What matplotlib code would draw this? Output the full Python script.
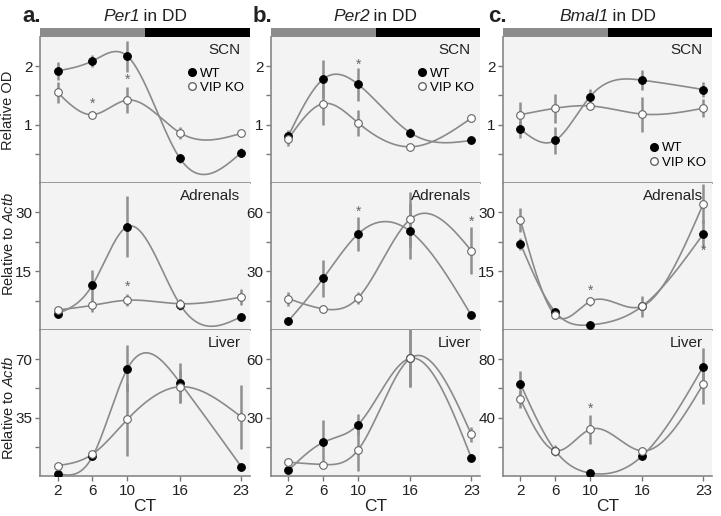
import numpy as np
import matplotlib
matplotlib.use('Agg')
import matplotlib.pyplot as plt
from matplotlib.lines import Line2D

plt.rcParams['font.family'] = ['Liberation Sans', 'DejaVu Sans']
plt.rcParams['mathtext.fontset'] = 'custom'
plt.rcParams['mathtext.rm'] = 'Liberation Sans'
plt.rcParams['mathtext.it'] = 'Liberation Sans:italic'

# ---------------- data ----------------
ct = [2, 6, 10, 16, 23]
ct_labels = ['2', '6', '10', '16', '23']
genes = ['Per1', 'Per2', 'Bmal1']
letters = ['a.', 'b.', 'c.']
tissues = ['SCN', 'Adrenals', 'Liver']
series_names = ['WT', 'VIP KO']
phase_start = [0, 12]
phase_width = [12, 12]
phase_colors = ['#8c8c8c', '#000000']
# y tick unit per (tissue row, gene column)
y_units = [[1, 1, 1], [15, 30, 15], [35, 30, 40]]

# Per1
per1_scn_wt = [1.92, 2.09, 2.17, 0.42, 0.52]
per1_scn_wt_err = [0.15, 0.10, 0.27, 0.07, 0.08]
per1_scn_ko = [1.55, 1.17, 1.42, 0.86, 0.85]
per1_scn_ko_err = [0.18, 0.06, 0.22, 0.10, 0.05]
per1_adr_wt = [4.2, 11.5, 26.4, 6.5, 3.4]
per1_adr_wt_err = [0.5, 3.9, 7.7, 1.5, 0.5]
per1_adr_ko = [5.1, 6.3, 7.6, 6.7, 8.4]
per1_adr_ko_err = [0.6, 1.8, 1.5, 1.2, 2.0]
per1_liv_wt = [1.4, 11.7, 64.4, 56.0, 5.6]
per1_liv_wt_err = [0.5, 1.5, 14.0, 12.0, 1.0]
per1_liv_ko = [6.2, 13.1, 34.0, 53.5, 35.4]
per1_liv_ko_err = [1.0, 1.0, 22.0, 10.0, 19.0]

# Per2
per2_scn_wt = [0.81, 1.78, 1.69, 0.86, 0.73]
per2_scn_wt_err = [0.10, 0.32, 0.28, 0.08, 0.03]
per2_scn_ko = [0.76, 1.36, 1.03, 0.62, 1.11]
per2_scn_ko_err = [0.12, 0.36, 0.22, 0.03, 0.07]
per2_adr_wt = [4.6, 26.4, 49.0, 50.3, 7.5]
per2_adr_wt_err = [1.0, 9.5, 8.5, 14.0, 1.0]
per2_adr_ko = [16.0, 10.8, 16.4, 56.6, 40.5]
per2_adr_ko_err = [3.5, 2.0, 3.0, 14.0, 12.0]
per2_liv_wt = [2.9, 17.3, 26.4, 60.5, 9.3]
per2_liv_wt_err = [0.5, 11.5, 5.5, 15.0, 1.0]
per2_liv_ko = [7.1, 5.9, 13.4, 60.5, 21.4]
per2_liv_ko_err = [2.0, 1.0, 11.0, 15.0, 4.0]

# Bmal1
bmal1_scn_wt = [0.92, 0.73, 1.48, 1.76, 1.60]
bmal1_scn_wt_err = [0.15, 0.23, 0.13, 0.17, 0.13]
bmal1_scn_ko = [1.17, 1.28, 1.32, 1.18, 1.28]
bmal1_scn_ko_err = [0.22, 0.25, 0.07, 0.30, 0.15]
bmal1_adr_wt = [22.0, 4.6, 1.3, 6.1, 24.5]
bmal1_adr_wt_err = [1.5, 0.5, 0.3, 1.0, 3.5]
bmal1_adr_ko = [28.1, 3.8, 7.3, 6.1, 32.2]
bmal1_adr_ko_err = [3.0, 0.6, 1.2, 2.7, 5.0]
bmal1_liv_wt = [63.0, 17.4, 2.0, 13.8, 75.0]
bmal1_liv_wt_err = [9.0, 2.0, 0.5, 2.0, 13.0]
bmal1_liv_ko = [52.4, 17.4, 31.9, 17.2, 63.0]
bmal1_liv_ko_err = [6.0, 4.0, 10.0, 3.0, 14.0]

# significance stars (CT, y) per panel
stars_per1 = [[(6, 1.36), (10, 1.76)], [(10, 11.0)], []]
stars_per2 = [[(10, 2.03)], [(10, 60.5), (23, 55.0)], []]
stars_bmal1 = [[], [(10, 10.1), (23, 20.3)], [(10, 46.0)]]

data = [
    [(per1_scn_wt, per1_scn_wt_err, per1_scn_ko, per1_scn_ko_err),
     (per1_adr_wt, per1_adr_wt_err, per1_adr_ko, per1_adr_ko_err),
     (per1_liv_wt, per1_liv_wt_err, per1_liv_ko, per1_liv_ko_err)],
    [(per2_scn_wt, per2_scn_wt_err, per2_scn_ko, per2_scn_ko_err),
     (per2_adr_wt, per2_adr_wt_err, per2_adr_ko, per2_adr_ko_err),
     (per2_liv_wt, per2_liv_wt_err, per2_liv_ko, per2_liv_ko_err)],
    [(bmal1_scn_wt, bmal1_scn_wt_err, bmal1_scn_ko, bmal1_scn_ko_err),
     (bmal1_adr_wt, bmal1_adr_wt_err, bmal1_adr_ko, bmal1_adr_ko_err),
     (bmal1_liv_wt, bmal1_liv_wt_err, bmal1_liv_ko, bmal1_liv_ko_err)],
]
stars = [stars_per1, stars_per2, stars_bmal1]


def natural_spline(x, y, xs):
    x = np.asarray(x, float)
    y = np.asarray(y, float)
    n = len(x)
    h = np.diff(x)
    A = np.zeros((n, n))
    b = np.zeros(n)
    A[0, 0] = 1
    A[-1, -1] = 1
    for i in range(1, n - 1):
        A[i, i - 1] = h[i - 1]
        A[i, i] = 2 * (h[i - 1] + h[i])
        A[i, i + 1] = h[i]
        b[i] = 6 * ((y[i + 1] - y[i]) / h[i] - (y[i] - y[i - 1]) / h[i - 1])
    M = np.linalg.solve(A, b)
    out = np.empty_like(xs)
    for k, xv in enumerate(xs):
        i = min(max(np.searchsorted(x, xv) - 1, 0), n - 2)
        t1 = x[i + 1] - xv
        t0 = xv - x[i]
        out[k] = (M[i] * t1 ** 3 / (6 * h[i]) + M[i + 1] * t0 ** 3 / (6 * h[i])
                  + (y[i] / h[i] - M[i] * h[i] / 6) * t1
                  + (y[i + 1] / h[i] - M[i + 1] * h[i] / 6) * t0)
    return out


# ---------------- layout ----------------
W, H = 721, 516
fig = plt.figure(figsize=(W / 100, H / 100), dpi=100)
col_x = [(40, 250), (271, 480), (503, 712)]
row_y = [(37, 183), (183, 330), (330, 476)]
bar_y = (28, 37)
letter_x = [22, 253, 488]
ylab_yc = [110, 244, 408]

def fig_rect(x0, x1, y0, y1):
    return [x0 / W, 1 - y1 / H, (x1 - x0) / W, (y1 - y0) / H]

line_c = '#8a8a8a'
err_c = '#8f8f8f'
bg_c = '#f3f3f3'
txt_c = '#222222'
xs = np.linspace(2, 23, 300)
title_parts = []

for c in range(3):
    x0, x1 = col_x[c]
    # phase bar
    bax = fig.add_axes(fig_rect(x0, x1, *bar_y))
    bax.barh([0], phase_width, left=phase_start, color=phase_colors, height=1)
    bax.set_xlim(0, 24)
    bax.set_ylim(-0.5, 0.5)
    bax.axis('off')
    # title: italic gene name + " in DD"
    t1 = fig.text((x0 + x1) / 2 / W, 1 - 24 / H, genes[c], style='italic',
                  ha='right', va='bottom', fontsize=12.5, color=txt_c)
    t2 = fig.text((x0 + x1) / 2 / W, 1 - 24 / H, '\u2009in DD', ha='left',
                  va='bottom', fontsize=12.5, color=txt_c)
    title_parts.append((t1, t2, (x0 + x1) / 2))
    fig.text(letter_x[c] / W, 1 - 22 / H, letters[c],
             fontsize=16, fontweight='bold', ha='left', va='baseline', color=txt_c)

    for r in range(3):
        ax = fig.add_axes(fig_rect(x0, x1, *row_y[r]))
        ax.set_facecolor(bg_c)
        u = y_units[r][c]
        wt, wte, ko, koe = data[c][r]
        ax.plot(xs, natural_spline(ct, wt, xs), color=line_c, lw=1.2, zorder=2)
        ax.plot(xs, natural_spline(ct, ko, xs), color=line_c, lw=1.2, zorder=2)
        ax.errorbar(ct, wt, yerr=wte, fmt='none', ecolor=err_c, elinewidth=1.8,
                    capsize=0, zorder=3)
        ax.errorbar(ct, ko, yerr=koe, fmt='none', ecolor=err_c, elinewidth=1.8,
                    capsize=0, zorder=3)
        ax.plot(ct, wt, 'o', ms=5.5, mfc='black', mec='black', mew=0.8, zorder=4,
                label=series_names[0])
        ax.plot(ct, ko, 'o', ms=5.5, mfc='white', mec='#666666', mew=0.8, zorder=5,
                label=series_names[1])
        for sx, sy in stars[c][r]:
            ax.text(sx, sy, '*', ha='center', va='center', fontsize=10,
                    color='#666666', zorder=6)
        ax.set_xlim(0, 24)
        ax.set_ylim(0, 2.5 * u)
        ax.set_yticks([0.5 * u, u, 1.5 * u, 2 * u])
        ax.set_yticklabels(['', str(u), '', str(2 * u)])
        ax.set_xticks(ct)
        if r == 2:
            ax.set_xticklabels(ct_labels)
            ax.set_xlabel('CT', fontsize=12.5, color=txt_c, labelpad=1)
        else:
            ax.set_xticklabels([])
        ax.tick_params(axis='both', colors='#777777', labelcolor=txt_c,
                       labelsize=11, length=3.5, width=1, pad=2)
        for s in ['top', 'right']:
            ax.spines[s].set_visible(False)
        for s in ['left', 'bottom']:
            ax.spines[s].set_color('#888888')
            ax.spines[s].set_linewidth(1.2)
        ax.text(0.955, 0.91, tissues[r], transform=ax.transAxes, ha='right',
                va='center', fontsize=11, color=txt_c)
        if r == 0:
            handles = [Line2D([], [], marker='o', ls='none', ms=5.5, mfc='black',
                              mec='black'),
                       Line2D([], [], marker='o', ls='none', ms=5.5, mfc='white',
                              mec='#666666')]
            if c < 2:
                ax.legend(handles, series_names, loc='upper right',
                          bbox_to_anchor=(0.985, 0.81), frameon=False,
                          fontsize=9.5, handlelength=0.6, handletextpad=0.3,
                          labelspacing=0.15, borderpad=0.2, borderaxespad=0)
            else:
                ax.legend(handles, series_names, loc='lower right',
                          bbox_to_anchor=(0.985, 0.08), frameon=False,
                          fontsize=9.5, handlelength=0.6, handletextpad=0.3,
                          labelspacing=0.15, borderpad=0.2, borderaxespad=0)
        if c == 0:
            yc = 1 - ylab_yc[r] / H
            lab = 'Relative OD' if r == 0 else r'Relative to $\mathit{Actb}$'
            fig.text(8.5 / W, yc, lab, rotation=90, ha='center', va='center',
                     fontsize=10.5, color=txt_c)

# center the two-part titles over their columns
fig.canvas.draw()
rend = fig.canvas.get_renderer()
for t1, t2, cx in title_parts:
    w1 = t1.get_window_extent(rend).width
    w2 = t2.get_window_extent(rend).width
    split = cx - (w1 + w2) / 2 + w1
    t1.set_x(split / W)
    t2.set_x(split / W)

fig.savefig('out.png', dpi=100)
